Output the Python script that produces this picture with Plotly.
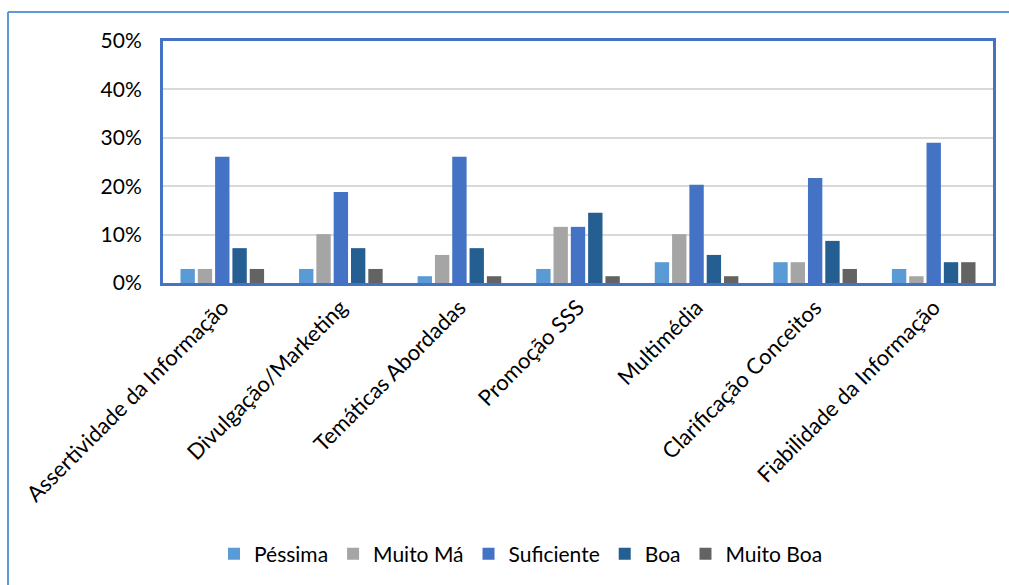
import plotly.graph_objects as go

categories = ["Assertividade da Informação", "Divulgação/Marketing", "Temáticas Abordadas",
              "Promoção SSS", "Multimédia", "Clarificação Conceitos", "Fiabilidade da Informação"]
series_names = ["Péssima", "Muito Má", "Suficiente", "Boa", "Muito Boa"]
pessima = [0.029, 0.029, 0.014, 0.029, 0.043, 0.043, 0.029]
muito_ma = [0.029, 0.101, 0.058, 0.116, 0.101, 0.043, 0.014]
suficiente = [0.261, 0.188, 0.261, 0.116, 0.203, 0.217, 0.290]
boa = [0.072, 0.072, 0.072, 0.145, 0.058, 0.087, 0.043]
muito_boa = [0.029, 0.029, 0.014, 0.014, 0.014, 0.029, 0.043]
series_values = [pessima, muito_ma, suficiente, boa, muito_boa]
colors = ["#5B9BD5", "#A5A5A5", "#4472C4", "#255E91", "#636363"]
y_ticks = [0, 0.1, 0.2, 0.3, 0.4, 0.5]
y_tick_labels = ["0%", "10%", "20%", "30%", "40%", "50%"]

FONT = "Lato, Calibri, sans-serif"
FS = 21

fig = go.Figure()
for name, vals, col in zip(series_names, series_values, colors):
    fig.add_trace(go.Bar(name=name, x=categories, y=vals, marker_color=col,
                         marker_line_width=0))

W, H = 1009, 585
L, R, T, B = 163, 16, 41, 302
pw, ph = W - L - R, H - T - B

def px_x(x):
    return (x - L) / pw

def px_y(y):
    return (H - B - y) / ph

fig.update_layout(
    width=W, height=H,
    margin=dict(l=L, r=R, t=T, b=B, autoexpand=False),
    paper_bgcolor="white", plot_bgcolor="white",
    barmode="group", bargap=0.27, bargroupgap=0.17,
    font=dict(family=FONT, size=FS, color="#000000"),
    legend=dict(orientation="h", x=px_x(521), xanchor="center", y=px_y(554), yanchor="middle",
                font=dict(family=FONT, size=FS), itemwidth=30, traceorder="normal"),
    showlegend=True,
    shapes=[
        dict(type="line", xref="paper", yref="paper", x0=px_x(8), x1=px_x(1012),
             y0=px_y(12), y1=px_y(12), line=dict(color="#5B9BD5", width=2)),
        dict(type="line", xref="paper", yref="paper", x0=px_x(8), x1=px_x(8),
             y0=px_y(12), y1=px_y(590), line=dict(color="#5B9BD5", width=2)),
    ],
)
fig.update_xaxes(tickangle=-45, showline=True, mirror=True, linecolor="#4472C4", linewidth=3,
                 ticks="", tickfont=dict(family=FONT, size=22), showgrid=False)
fig.update_yaxes(range=[0, 0.5], tickvals=y_ticks, ticktext=y_tick_labels,
                 showline=True, mirror=True, linecolor="#4472C4", linewidth=3,
                 gridcolor="#D9D9D9", gridwidth=1.5, zeroline=False, ticks="",
                 tickfont=dict(family=FONT, size=FS), ticklabelstandoff=14)

fig.write_html("out.html", config={"displayModeBar": False},
               post_script="document.body.style.margin='0px';document.body.style.overflow='hidden';")
